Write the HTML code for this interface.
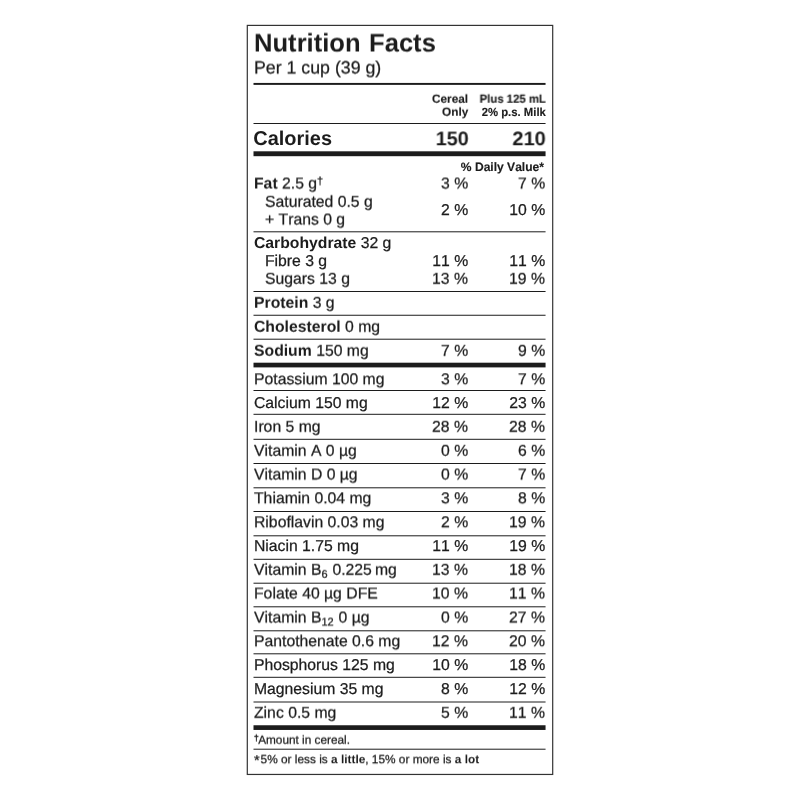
<!DOCTYPE html>
<html lang="en">
<head>
<meta charset="utf-8">
<title>Nutrition Facts</title>
<style>
html,body{margin:0;padding:0;background:#fff;}
body{width:800px;height:800px;position:relative;overflow:hidden;font-family:"Liberation Sans",sans-serif;color:#1c1c1c;}
svg.lines{position:absolute;left:0;top:0;}
.t{position:absolute;white-space:nowrap;text-rendering:geometricPrecision;font-kerning:none;font-variant-ligatures:none;transform-origin:0 50%;-webkit-text-stroke:0.25px #1c1c1c;}
b,.b{-webkit-text-stroke:0;}
b{font-weight:700;}
</style>
</head>
<body>
<main class="label" aria-label="Nutrition Facts">
<svg class="lines" width="800" height="800" viewBox="0 0 800 800" aria-hidden="true">
<rect x="247.3" y="25.4" width="305.4" height="749.05" fill="none" stroke="#333" stroke-width="1.2"/>
<rect x="253.5" y="82.93" width="292.05" height="1.95" fill="#1c1c1c"/>
<rect x="253.5" y="123.00" width="292.05" height="1" fill="#1c1c1c"/>
<rect x="253.5" y="151.30" width="292.05" height="4.9" fill="#1c1c1c"/>
<rect x="253.5" y="231.30" width="292.05" height="1" fill="#1c1c1c"/>
<rect x="253.5" y="291.00" width="292.05" height="1" fill="#1c1c1c"/>
<rect x="253.5" y="314.75" width="292.05" height="1" fill="#1c1c1c"/>
<rect x="253.5" y="338.70" width="292.05" height="1" fill="#1c1c1c"/>
<rect x="253.5" y="362.70" width="292.05" height="4.7" fill="#1c1c1c"/>
<rect x="253.5" y="390.00" width="292.05" height="1" fill="#1c1c1c"/>
<rect x="253.5" y="413.80" width="292.05" height="1" fill="#1c1c1c"/>
<rect x="253.5" y="438.80" width="292.05" height="1" fill="#1c1c1c"/>
<rect x="253.5" y="463.00" width="292.05" height="1" fill="#1c1c1c"/>
<rect x="253.5" y="487.30" width="292.05" height="1" fill="#1c1c1c"/>
<rect x="253.5" y="511.00" width="292.05" height="1" fill="#1c1c1c"/>
<rect x="253.5" y="535.30" width="292.05" height="1" fill="#1c1c1c"/>
<rect x="253.5" y="558.80" width="292.05" height="1" fill="#1c1c1c"/>
<rect x="253.5" y="582.70" width="292.05" height="1" fill="#1c1c1c"/>
<rect x="253.5" y="606.30" width="292.05" height="1" fill="#1c1c1c"/>
<rect x="253.5" y="630.30" width="292.05" height="1" fill="#1c1c1c"/>
<rect x="253.5" y="653.30" width="292.05" height="1" fill="#1c1c1c"/>
<rect x="253.5" y="676.80" width="292.05" height="1" fill="#1c1c1c"/>
<rect x="253.5" y="701.50" width="292.05" height="1" fill="#1c1c1c"/>
<rect x="253.5" y="725.25" width="292.05" height="4.7" fill="#1c1c1c"/>
<rect x="253.5" y="748.70" width="292.05" height="1" fill="#1c1c1c"/>
</svg>
<div class="t" style="top:28.00px;left:253.6px;font-size:25.6px;line-height:31px;transform:translateY(0.5px) perspective(1000px) translateZ(0);font-weight:700;-webkit-text-stroke:0;word-spacing:1.3px;">Nutrition Facts</div>
<div class="t" style="top:57.01px;left:253.9px;font-size:17.75px;line-height:21px;transform:translateY(0.5px) perspective(1000px) translateZ(0);">Per 1 cup (39 g)</div>
<div class="t" style="top:91.01px;right:331.5px;font-size:11.8px;line-height:14px;transform-origin:100% 50%;transform:translateY(0.75px) perspective(1000px) translateZ(0);font-weight:700;-webkit-text-stroke:0.15px #1c1c1c;">Cereal</div>
<div class="t" style="top:104.01px;right:331.5px;font-size:11.8px;line-height:14px;transform-origin:100% 50%;transform:translateY(0.75px) perspective(1000px) translateZ(0);font-weight:700;-webkit-text-stroke:0.15px #1c1c1c;">Only</div>
<div class="t" style="top:91.01px;right:254.5px;font-size:11.8px;line-height:14px;transform-origin:100% 50%;transform:translateY(0.75px) perspective(1000px) translateZ(0) scaleX(0.963);font-weight:700;-webkit-text-stroke:0.15px #1c1c1c;">Plus 125 mL</div>
<div class="t" style="top:105.01px;right:254.5px;font-size:11.8px;line-height:14px;transform-origin:100% 50%;transform:scaleX(0.96);font-weight:700;-webkit-text-stroke:0.15px #1c1c1c;">2% p.s. Milk</div>
<div class="t" style="top:127.01px;left:253.35px;font-size:19.95px;line-height:24px;font-weight:700;-webkit-text-stroke:0;">Calories</div>
<div class="t" style="top:127.02px;right:330.95px;font-size:19.7px;line-height:24px;transform-origin:100% 50%;transform:translateY(0.25px) perspective(1000px) translateZ(0) scaleX(1.01);font-weight:700;-webkit-text-stroke:0;">150</div>
<div class="t" style="top:127.02px;right:254.35px;font-size:19.7px;line-height:24px;transform-origin:100% 50%;transform:translateY(0.25px) perspective(1000px) translateZ(0) scaleX(1.02);font-weight:700;-webkit-text-stroke:0;">210</div>
<div class="t" style="top:160.01px;right:255.55px;font-size:12.2px;line-height:15px;transform-origin:100% 50%;transform:scaleX(0.99);font-weight:700;-webkit-text-stroke:0.15px #1c1c1c;">% Daily Value*</div>
<div class="t" style="top:174.01px;left:253.9px;font-size:15.75px;line-height:19px;transform:translateY(0.5px) perspective(1000px) translateZ(0);"><b>Fat</b> 2.5 g<span style="font-size:11px;position:relative;top:-4.5px">†</span></div>
<div class="t" style="top:174.01px;right:331.8px;font-size:15.75px;line-height:19px;transform-origin:100% 50%;transform:translateY(0.5px) perspective(1000px) translateZ(0);">3 %</div>
<div class="t" style="top:174.01px;right:254.85px;font-size:15.75px;line-height:19px;transform-origin:100% 50%;transform:translateY(0.5px) perspective(1000px) translateZ(0);">7 %</div>
<div class="t" style="top:192.01px;left:264.7px;font-size:15.75px;line-height:19px;transform:translateY(0.75px) perspective(1000px) translateZ(0);">Saturated 0.5 g</div>
<div class="t" style="top:201.01px;right:331.8px;font-size:15.75px;line-height:19px;transform-origin:100% 50%;">2 %</div>
<div class="t" style="top:201.01px;right:254.85px;font-size:15.75px;line-height:19px;transform-origin:100% 50%;">10 %</div>
<div class="t" style="top:210.01px;left:264.7px;font-size:15.75px;line-height:19px;transform:translateY(0.5px) perspective(1000px) translateZ(0);">+ Trans 0 g</div>
<div class="t" style="top:234.01px;left:253.9px;font-size:15.75px;line-height:19px;"><b>Carbohydrate</b> 32 g</div>
<div class="t" style="top:252.01px;left:264.9px;font-size:15.75px;line-height:19px;">Fibre 3 g</div>
<div class="t" style="top:252.01px;right:331.8px;font-size:15.75px;line-height:19px;transform-origin:100% 50%;">11 %</div>
<div class="t" style="top:252.01px;right:254.85px;font-size:15.75px;line-height:19px;transform-origin:100% 50%;">11 %</div>
<div class="t" style="top:269.01px;left:264.9px;font-size:15.75px;line-height:19px;transform:translateY(0.75px) perspective(1000px) translateZ(0);">Sugars 13 g</div>
<div class="t" style="top:269.01px;right:331.8px;font-size:15.75px;line-height:19px;transform-origin:100% 50%;transform:translateY(0.75px) perspective(1000px) translateZ(0);">13 %</div>
<div class="t" style="top:269.01px;right:254.85px;font-size:15.75px;line-height:19px;transform-origin:100% 50%;transform:translateY(0.75px) perspective(1000px) translateZ(0);">19 %</div>
<div class="t" style="top:293.01px;left:253.9px;font-size:15.75px;line-height:19px;transform:translateY(0.75px) perspective(1000px) translateZ(0);"><b>Protein</b> 3 g</div>
<div class="t" style="top:317.01px;left:253.9px;font-size:15.75px;line-height:19px;transform:translateY(0.75px) perspective(1000px) translateZ(0);"><b>Cholesterol</b> 0 mg</div>
<div class="t" style="top:341.01px;left:253.9px;font-size:15.75px;line-height:19px;transform:translateY(0.75px) perspective(1000px) translateZ(0);"><b>Sodium</b> 150 mg</div>
<div class="t" style="top:341.01px;right:331.8px;font-size:15.75px;line-height:19px;transform-origin:100% 50%;transform:translateY(0.75px) perspective(1000px) translateZ(0);">7 %</div>
<div class="t" style="top:341.01px;right:254.85px;font-size:15.75px;line-height:19px;transform-origin:100% 50%;transform:translateY(0.75px) perspective(1000px) translateZ(0);">9 %</div>
<div class="t" style="top:370.01px;left:253.9px;font-size:15.75px;line-height:19px;transform:translateY(0.25px) perspective(1000px) translateZ(0);">Potassium 100 mg</div>
<div class="t" style="top:370.01px;right:331.8px;font-size:15.75px;line-height:19px;transform-origin:100% 50%;transform:translateY(0.25px) perspective(1000px) translateZ(0);">3 %</div>
<div class="t" style="top:370.01px;right:254.85px;font-size:15.75px;line-height:19px;transform-origin:100% 50%;transform:translateY(0.25px) perspective(1000px) translateZ(0);">7 %</div>
<div class="t" style="top:394.01px;left:253.9px;font-size:15.75px;line-height:19px;">Calcium 150 mg</div>
<div class="t" style="top:394.01px;right:331.8px;font-size:15.75px;line-height:19px;transform-origin:100% 50%;">12 %</div>
<div class="t" style="top:394.01px;right:254.85px;font-size:15.75px;line-height:19px;transform-origin:100% 50%;">23 %</div>
<div class="t" style="top:417.01px;left:253.9px;font-size:15.75px;line-height:19px;transform:translateY(0.75px) perspective(1000px) translateZ(0);">Iron 5 mg</div>
<div class="t" style="top:417.01px;right:331.8px;font-size:15.75px;line-height:19px;transform-origin:100% 50%;transform:translateY(0.75px) perspective(1000px) translateZ(0);">28 %</div>
<div class="t" style="top:417.01px;right:254.85px;font-size:15.75px;line-height:19px;transform-origin:100% 50%;transform:translateY(0.75px) perspective(1000px) translateZ(0);">28 %</div>
<div class="t" style="top:441.01px;left:253.9px;font-size:15.75px;line-height:19px;transform:translateY(0.75px) perspective(1000px) translateZ(0);">Vitamin A 0 µg</div>
<div class="t" style="top:441.01px;right:331.8px;font-size:15.75px;line-height:19px;transform-origin:100% 50%;transform:translateY(0.75px) perspective(1000px) translateZ(0);">0 %</div>
<div class="t" style="top:441.01px;right:254.85px;font-size:15.75px;line-height:19px;transform-origin:100% 50%;transform:translateY(0.75px) perspective(1000px) translateZ(0);">6 %</div>
<div class="t" style="top:465.01px;left:253.9px;font-size:15.75px;line-height:19px;transform:translateY(0.5px) perspective(1000px) translateZ(0);">Vitamin D 0 µg</div>
<div class="t" style="top:465.01px;right:331.8px;font-size:15.75px;line-height:19px;transform-origin:100% 50%;transform:translateY(0.5px) perspective(1000px) translateZ(0);">0 %</div>
<div class="t" style="top:465.01px;right:254.85px;font-size:15.75px;line-height:19px;transform-origin:100% 50%;transform:translateY(0.5px) perspective(1000px) translateZ(0);">7 %</div>
<div class="t" style="top:489.01px;left:253.9px;font-size:15.75px;line-height:19px;transform:translateY(0.25px) perspective(1000px) translateZ(0);">Thiamin 0.04 mg</div>
<div class="t" style="top:489.01px;right:331.8px;font-size:15.75px;line-height:19px;transform-origin:100% 50%;transform:translateY(0.25px) perspective(1000px) translateZ(0);">3 %</div>
<div class="t" style="top:489.01px;right:254.85px;font-size:15.75px;line-height:19px;transform-origin:100% 50%;transform:translateY(0.25px) perspective(1000px) translateZ(0);">8 %</div>
<div class="t" style="top:513.01px;left:253.9px;font-size:15.75px;line-height:19px;transform:translateY(0.25px) perspective(1000px) translateZ(0);">Riboflavin 0.03 mg</div>
<div class="t" style="top:513.01px;right:331.8px;font-size:15.75px;line-height:19px;transform-origin:100% 50%;transform:translateY(0.25px) perspective(1000px) translateZ(0);">2 %</div>
<div class="t" style="top:513.01px;right:254.85px;font-size:15.75px;line-height:19px;transform-origin:100% 50%;transform:translateY(0.25px) perspective(1000px) translateZ(0);">19 %</div>
<div class="t" style="top:537.01px;left:253.9px;font-size:15.75px;line-height:19px;">Niacin 1.75 mg</div>
<div class="t" style="top:537.01px;right:331.8px;font-size:15.75px;line-height:19px;transform-origin:100% 50%;">11 %</div>
<div class="t" style="top:537.01px;right:254.85px;font-size:15.75px;line-height:19px;transform-origin:100% 50%;">19 %</div>
<div class="t" style="top:560.01px;left:253.9px;font-size:15.75px;line-height:19px;transform:translateY(0.75px) perspective(1000px) translateZ(0);">Vitamin B<span style="font-size:11px;position:relative;top:2.6px;margin-right:0.5px">6</span> 0.225<span style="margin-left:-1.3px"> mg</span></div>
<div class="t" style="top:560.01px;right:331.8px;font-size:15.75px;line-height:19px;transform-origin:100% 50%;transform:translateY(0.75px) perspective(1000px) translateZ(0);">13 %</div>
<div class="t" style="top:560.01px;right:254.85px;font-size:15.75px;line-height:19px;transform-origin:100% 50%;transform:translateY(0.75px) perspective(1000px) translateZ(0);">18 %</div>
<div class="t" style="top:584.01px;left:253.9px;font-size:15.75px;line-height:19px;transform:translateY(0.5px) perspective(1000px) translateZ(0);">Folate 40 µg DFE</div>
<div class="t" style="top:584.01px;right:331.8px;font-size:15.75px;line-height:19px;transform-origin:100% 50%;transform:translateY(0.5px) perspective(1000px) translateZ(0);">10 %</div>
<div class="t" style="top:584.01px;right:254.85px;font-size:15.75px;line-height:19px;transform-origin:100% 50%;transform:translateY(0.5px) perspective(1000px) translateZ(0);">11 %</div>
<div class="t" style="top:608.01px;left:253.9px;font-size:15.75px;line-height:19px;transform:translateY(0.5px) perspective(1000px) translateZ(0);">Vitamin B<span style="font-size:11px;position:relative;top:2.6px;margin-right:0.5px">12</span> 0 µg</div>
<div class="t" style="top:608.01px;right:331.8px;font-size:15.75px;line-height:19px;transform-origin:100% 50%;transform:translateY(0.5px) perspective(1000px) translateZ(0);">0 %</div>
<div class="t" style="top:608.01px;right:254.85px;font-size:15.75px;line-height:19px;transform-origin:100% 50%;transform:translateY(0.5px) perspective(1000px) translateZ(0);">27 %</div>
<div class="t" style="top:632.01px;left:253.9px;font-size:15.75px;line-height:19px;transform:translateY(0.25px) perspective(1000px) translateZ(0);">Pantothenate 0.6 mg</div>
<div class="t" style="top:632.01px;right:331.8px;font-size:15.75px;line-height:19px;transform-origin:100% 50%;transform:translateY(0.25px) perspective(1000px) translateZ(0);">12 %</div>
<div class="t" style="top:632.01px;right:254.85px;font-size:15.75px;line-height:19px;transform-origin:100% 50%;transform:translateY(0.25px) perspective(1000px) translateZ(0);">20 %</div>
<div class="t" style="top:656.01px;left:253.9px;font-size:15.75px;line-height:19px;">Phosphorus 125 mg</div>
<div class="t" style="top:656.01px;right:331.8px;font-size:15.75px;line-height:19px;transform-origin:100% 50%;">10 %</div>
<div class="t" style="top:656.01px;right:254.85px;font-size:15.75px;line-height:19px;transform-origin:100% 50%;">18 %</div>
<div class="t" style="top:680.01px;left:253.9px;font-size:15.75px;line-height:19px;">Magnesium 35 mg</div>
<div class="t" style="top:680.01px;right:331.8px;font-size:15.75px;line-height:19px;transform-origin:100% 50%;">8 %</div>
<div class="t" style="top:680.01px;right:254.85px;font-size:15.75px;line-height:19px;transform-origin:100% 50%;">12 %</div>
<div class="t" style="top:703.01px;left:253.9px;font-size:15.75px;line-height:19px;transform:translateY(0.75px) perspective(1000px) translateZ(0);">Zinc 0.5 mg</div>
<div class="t" style="top:703.01px;right:331.8px;font-size:15.75px;line-height:19px;transform-origin:100% 50%;transform:translateY(0.75px) perspective(1000px) translateZ(0);">5 %</div>
<div class="t" style="top:703.01px;right:254.85px;font-size:15.75px;line-height:19px;transform-origin:100% 50%;transform:translateY(0.75px) perspective(1000px) translateZ(0);">11 %</div>
<div class="t" style="top:732.01px;left:254.2px;font-size:11.8px;line-height:14px;transform:translateY(0.75px) perspective(1000px) translateZ(0);"><span style="font-size:8.5px;position:relative;top:-3px;margin-right:-0.6px;-webkit-text-stroke:0.4px">†</span>Amount in cereal.</div>
<div class="t" style="top:752.02px;left:254.0px;font-size:11.85px;line-height:14px;transform:translateY(0.25px) perspective(1000px) translateZ(0);"><span style="font-size:14.5px;line-height:0;position:relative;top:2.4px;margin-right:0.95px;-webkit-text-stroke:0.3px">*</span>5% or less is <b>a little</b>, 15% or more is <b>a lot</b></div>
</main>
</body>
</html>
